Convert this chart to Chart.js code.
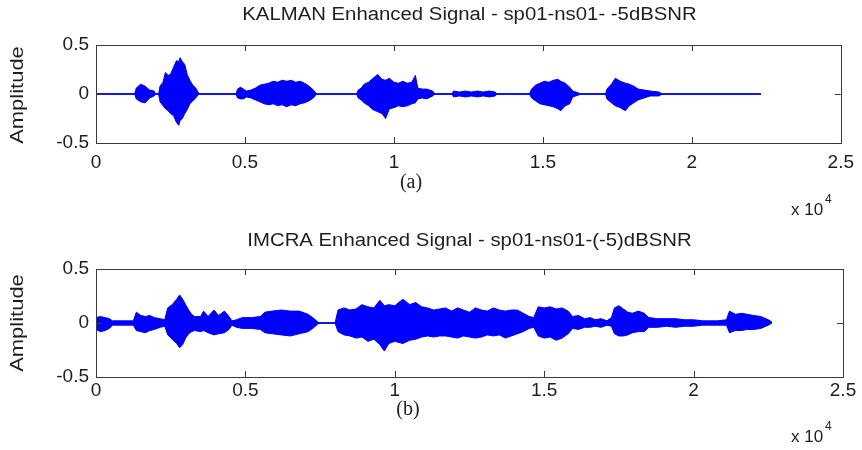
<!DOCTYPE html>
<html>
<head>
<meta charset="utf-8">
<script src="https://cdn.jsdelivr.net/npm/chart.js@4.4.1/dist/chart.umd.min.js"></script>
<style>
  body { margin: 0; background: #fff; }
  canvas { position: absolute; left: 0; }
</style>
</head>
<body>
<canvas id="chartA" width="862" height="225" style="top:0"></canvas>
<canvas id="chartB" width="862" height="225" style="top:225px"></canvas>
<script>
// envelope of the KALMAN enhanced signal (sample index, upper, lower)
const kalmanX = [0, 1300, 1350, 1500, 1650, 1800, 1950, 2000, 2100, 2150, 2250, 2330, 2420, 2500, 2600, 2700, 2780, 2820, 2900, 2980, 3060, 3150, 3250, 3350, 3420, 3480,
  4700, 4750, 4850, 4950, 5050, 5200, 5350, 5500, 5650, 5800, 5950, 6100, 6250, 6400, 6550, 6700, 6850, 7000, 7150, 7300, 7400,
  8750, 8800, 8900, 9000, 9150, 9300, 9450, 9600, 9720, 9850, 10000, 10150, 10300, 10450, 10600, 10720, 10800, 10950, 11100, 11300, 11380,
  11950, 12000, 12200, 12400, 12600, 12800, 13000, 13200, 13400, 13450,
  14550, 14620, 14750, 14900, 15050, 15200, 15350, 15500, 15600, 15750, 15900, 16000, 16200, 16250,
  17100, 17150, 17300, 17430, 17600, 17770, 17900, 18050, 18200, 18400, 18600, 18900, 19000, 22320];
const kalmanHi = [0, 0, 0.06, 0.10, 0.08, 0.04, 0.03, 0, 0, 0.08, 0.12, 0.22, 0.19, 0.20, 0.27, 0.34, 0.33, 0.37, 0.33, 0.30, 0.20, 0.14, 0.09, 0.06, 0.02, 0,
  0, 0.05, 0.07, 0.05, 0.03, 0.04, 0.06, 0.09, 0.10, 0.11, 0.13, 0.12, 0.14, 0.13, 0.14, 0.12, 0.13, 0.11, 0.08, 0.04, 0,
  0, 0.04, 0.06, 0.10, 0.12, 0.16, 0.20, 0.15, 0.14, 0.16, 0.12, 0.11, 0.13, 0.11, 0.12, 0.19, 0.06, 0.05, 0.05, 0.03, 0,
  0, 0.03, 0.02, 0.03, 0.02, 0.03, 0.02, 0.03, 0.02, 0,
  0, 0.05, 0.09, 0.11, 0.13, 0.12, 0.14, 0.15, 0.13, 0.11, 0.07, 0.03, 0.01, 0,
  0, 0.05, 0.10, 0.16, 0.13, 0.11, 0.10, 0.08, 0.05, 0.04, 0.03, 0.02, 0, 0];
const kalmanLo = [0, 0, -0.05, -0.08, -0.09, -0.04, -0.02, 0, 0, -0.08, -0.12, -0.15, -0.17, -0.20, -0.22, -0.29, -0.32, -0.27, -0.25, -0.20, -0.16, -0.10, -0.07, -0.04, -0.01, 0,
  0, -0.04, -0.05, -0.05, -0.03, -0.04, -0.06, -0.08, -0.10, -0.11, -0.10, -0.12, -0.11, -0.13, -0.11, -0.12, -0.10, -0.09, -0.07, -0.04, 0,
  0, -0.04, -0.06, -0.09, -0.12, -0.16, -0.18, -0.20, -0.25, -0.15, -0.14, -0.12, -0.13, -0.12, -0.10, -0.09, -0.05, -0.04, -0.05, -0.02, 0,
  0, -0.03, -0.02, -0.03, -0.02, -0.03, -0.02, -0.03, -0.02, 0,
  0, -0.04, -0.07, -0.10, -0.11, -0.12, -0.13, -0.15, -0.17, -0.12, -0.10, -0.03, -0.01, 0,
  0, -0.05, -0.09, -0.12, -0.14, -0.17, -0.12, -0.09, -0.06, -0.04, -0.02, -0.02, 0, 0];

// envelope of the IMCRA enhanced signal
const imcraX = [0, 150, 300, 450, 550, 1250, 1350, 1500, 1650, 1800, 1950, 2150, 2300, 2400, 2550, 2700, 2800, 2900, 3000, 3100, 3200, 3300, 3500, 3600, 3750, 3950, 4100, 4300, 4450, 4550,
  4700, 4900, 5200, 5500, 5650, 5900, 6200, 6500, 6800, 7100, 7300, 7420, 7500, 8000,
  8100, 8300, 8500, 8700, 8900, 9100, 9300, 9500, 9650, 9800, 10000, 10270, 10500, 10700, 10900, 11100, 11300, 11500, 11700, 11900, 12100, 12300, 12500, 12700, 12900, 13100, 13300, 13500, 13700, 13900, 14100, 14300, 14500, 14650,
  14800, 15000, 15200, 15400, 15600, 15800, 15950, 16150, 16350, 16550, 16700, 16900, 17100, 17250,
  17350, 17500, 17650, 17800, 17950, 18150, 18350, 18500, 18800, 19100, 19400, 19700, 20000, 20300, 20500, 20800, 21100,
  21200, 21400, 21600, 21800, 22000, 22250, 22500, 22620];
const imcraHi = [0.05, 0.06, 0.05, 0.04, 0.02, 0.02, 0.10, 0.07, 0.06, 0.07, 0.05, 0.04, 0.03, 0.14, 0.17, 0.22, 0.26, 0.22, 0.17, 0.12, 0.08, 0.06, 0.06, 0.11, 0.06, 0.12, 0.07, 0.11, 0.06, 0.02,
  0.03, 0.05, 0.05, 0.06, 0.10, 0.11, 0.12, 0.11, 0.11, 0.08, 0.04, 0.01, 0, 0,
  0.12, 0.14, 0.12, 0.13, 0.17, 0.15, 0.14, 0.21, 0.16, 0.17, 0.16, 0.22, 0.17, 0.19, 0.15, 0.14, 0.12, 0.13, 0.14, 0.11, 0.14, 0.12, 0.10, 0.14, 0.12, 0.11, 0.14, 0.12, 0.11, 0.12, 0.12, 0.09, 0.06, 0.05,
  0.15, 0.14, 0.15, 0.13, 0.14, 0.11, 0.06, 0.07, 0.04, 0.05, 0.03, 0.04, 0.02, 0.05,
  0.14, 0.16, 0.13, 0.10, 0.09, 0.11, 0.09, 0.05, 0.04, 0.04, 0.04, 0.03, 0.03, 0.02, 0.02, 0.02, 0.03,
  0.11, 0.08, 0.09, 0.08, 0.07, 0.06, 0.03, 0.01];
const imcraLo = [-0.06, -0.08, -0.07, -0.05, -0.02, -0.02, -0.07, -0.08, -0.09, -0.07, -0.06, -0.04, -0.03, -0.11, -0.15, -0.19, -0.23, -0.20, -0.14, -0.10, -0.08, -0.07, -0.08, -0.07, -0.09, -0.11, -0.10, -0.09, -0.06, -0.02,
  -0.04, -0.05, -0.05, -0.06, -0.09, -0.10, -0.11, -0.12, -0.10, -0.08, -0.04, -0.01, 0, 0,
  -0.08, -0.11, -0.12, -0.14, -0.13, -0.17, -0.15, -0.20, -0.26, -0.19, -0.17, -0.19, -0.16, -0.15, -0.13, -0.12, -0.13, -0.12, -0.12, -0.13, -0.14, -0.12, -0.13, -0.14, -0.13, -0.11, -0.12, -0.11, -0.14, -0.12, -0.10, -0.08, -0.05, -0.04,
  -0.12, -0.14, -0.13, -0.16, -0.14, -0.10, -0.05, -0.06, -0.04, -0.04, -0.03, -0.04, -0.02, -0.03,
  -0.10, -0.12, -0.12, -0.11, -0.09, -0.08, -0.08, -0.04, -0.04, -0.03, -0.04, -0.03, -0.03, -0.02, -0.02, -0.02, -0.02,
  -0.09, -0.07, -0.07, -0.06, -0.06, -0.05, -0.02, 0];

const xTicks = [0, 0.5, 1, 1.5, 2, 2.5];   // x 10^4
const yTicks = [-0.5, 0, 0.5];

const SANS = '"Liberation Sans", Arial, sans-serif';
const SERIF = '"Liberation Serif", "Times New Roman", serif';

// draws the MATLAB style box, inward ticks and free texts
const matlabFrame = {
  id: 'matlabFrame',
  afterDraw(chart, args, opts) {
    const ctx = chart.ctx;
    const a = chart.chartArea;
    const xs = chart.scales.x, ys = chart.scales.y;
    ctx.save();
    ctx.strokeStyle = '#3a3a3a';
    ctx.lineWidth = 1;
    ctx.strokeRect(Math.round(a.left) + 0.5, Math.round(a.top) + 0.5, Math.round(a.width), Math.round(a.height));
    ctx.beginPath();
    xs.ticks.forEach(t => {
      const px = Math.round(xs.getPixelForValue(t.value)) + 0.5;
      ctx.moveTo(px, a.top); ctx.lineTo(px, a.top + 6);
      ctx.moveTo(px, a.bottom); ctx.lineTo(px, a.bottom - 6);
    });
    ys.ticks.forEach(t => {
      const py = Math.round(ys.getPixelForValue(t.value)) + 0.5;
      ctx.moveTo(a.left, py); ctx.lineTo(a.left + 6, py);
      ctx.moveTo(a.right, py); ctx.lineTo(a.right - 6, py);
    });
    ctx.stroke();

    ctx.fillStyle = '#1e1e1e';
    ctx.textBaseline = 'middle';
    (opts.texts || []).forEach(t => {
      ctx.save();
      ctx.font = t.font;
      ctx.textAlign = t.align || 'center';
      ctx.translate(t.x, t.y);
      if (t.rotate) ctx.rotate(t.rotate);
      ctx.scale(t.sx || 1, t.sy || 1);
      ctx.fillText(t.text, 0, 0);
      ctx.restore();
    });
    ctx.restore();
  }
};

function makeChart(id, sx, hi, lo, boxTop, boxBottom, labelPad, texts) {
  const pts = arr => sx.map((x, i) => ({ x: x, y: arr[i] }));
  const zeroEnd = sx[sx.length - 1];
  return new Chart(document.getElementById(id), {
    type: 'line',
    plugins: [matlabFrame],
    data: {
      datasets: [
        {
          data: [{ x: 0, y: 0 }, { x: zeroEnd, y: 0 }],
          borderColor: '#1f1f78',
          borderWidth: 1.5,
          pointRadius: 0,
          fill: false,
          order: 3
        },
        {
          data: pts(hi),
          borderColor: '#0000ff',
          borderWidth: 1,
          pointRadius: 0,
          fill: false,
          order: 1
        },
        {
          data: pts(lo),
          borderColor: '#0000ff',
          backgroundColor: '#0000ff',
          borderWidth: 1,
          pointRadius: 0,
          fill: '-1',
          order: 1
        }
      ]
    },
    options: {
      responsive: false,
      animation: false,
      devicePixelRatio: 1,
      layout: { padding: { top: boxTop, right: 19, left: 0, bottom: 0 } },
      plugins: {
        legend: { display: false },
        tooltip: { enabled: false },
        matlabFrame: { texts: texts }
      },
      scales: {
        x: {
          type: 'linear',
          min: 0,
          max: 25000,
          afterFit: s => { s.height = 225 - boxBottom; },
          afterBuildTicks: s => { s.ticks = xTicks.map(v => ({ value: v * 10000 })); },
          grid: { display: false, drawTicks: false },
          border: { display: false },
          ticks: {
            padding: labelPad,
            color: '#1e1e1e',
            font: { family: SANS, size: 19 },
            maxRotation: 0,
            callback: v => String(v / 10000)
          }
        },
        y: {
          min: -0.5,
          max: 0.5,
          afterFit: s => { s.width = 96; },
          afterBuildTicks: s => { s.ticks = yTicks.map(v => ({ value: v })); },
          grid: { display: false, drawTicks: false },
          border: { display: false },
          ticks: {
            padding: 7,
            color: '#1e1e1e',
            font: { family: SANS, size: 19 },
            callback: v => String(v)
          }
        }
      }
    }
  });
}

makeChart('chartA', kalmanX, kalmanHi, kalmanLo, 45, 143, 8, [
  { text: 'KALMAN Enhanced Signal - sp01-ns01- -5dBSNR', x: 469.5, y: 15, font: '18px ' + SANS, sx: 1.13 },
  { text: 'Amplitude', x: 18, y: 95, font: '18px ' + SANS, rotate: -Math.PI / 2, sx: 1.22 },
  { text: '(a)', x: 411, y: 183, font: '20px ' + SERIF },
  { text: 'x 10', x: 791, y: 210, font: '17px ' + SANS, align: 'left' },
  { text: '4', x: 825, y: 200, font: '12px ' + SANS, align: 'left' }
]);

makeChart('chartB', imcraX, imcraHi, imcraLo, 44, 152, 2, [
  { text: 'IMCRA Enhanced Signal - sp01-ns01-(-5)dBSNR', x: 469.5, y: 16, font: '18px ' + SANS, sx: 1.13 },
  { text: 'Amplitude', x: 18, y: 98, font: '18px ' + SANS, rotate: -Math.PI / 2, sx: 1.22 },
  { text: '(b)', x: 408, y: 185, font: '20px ' + SERIF },
  { text: 'x 10', x: 791, y: 212, font: '17px ' + SANS, align: 'left' },
  { text: '4', x: 825, y: 202, font: '12px ' + SANS, align: 'left' }
]);
</script>
</body>
</html>
